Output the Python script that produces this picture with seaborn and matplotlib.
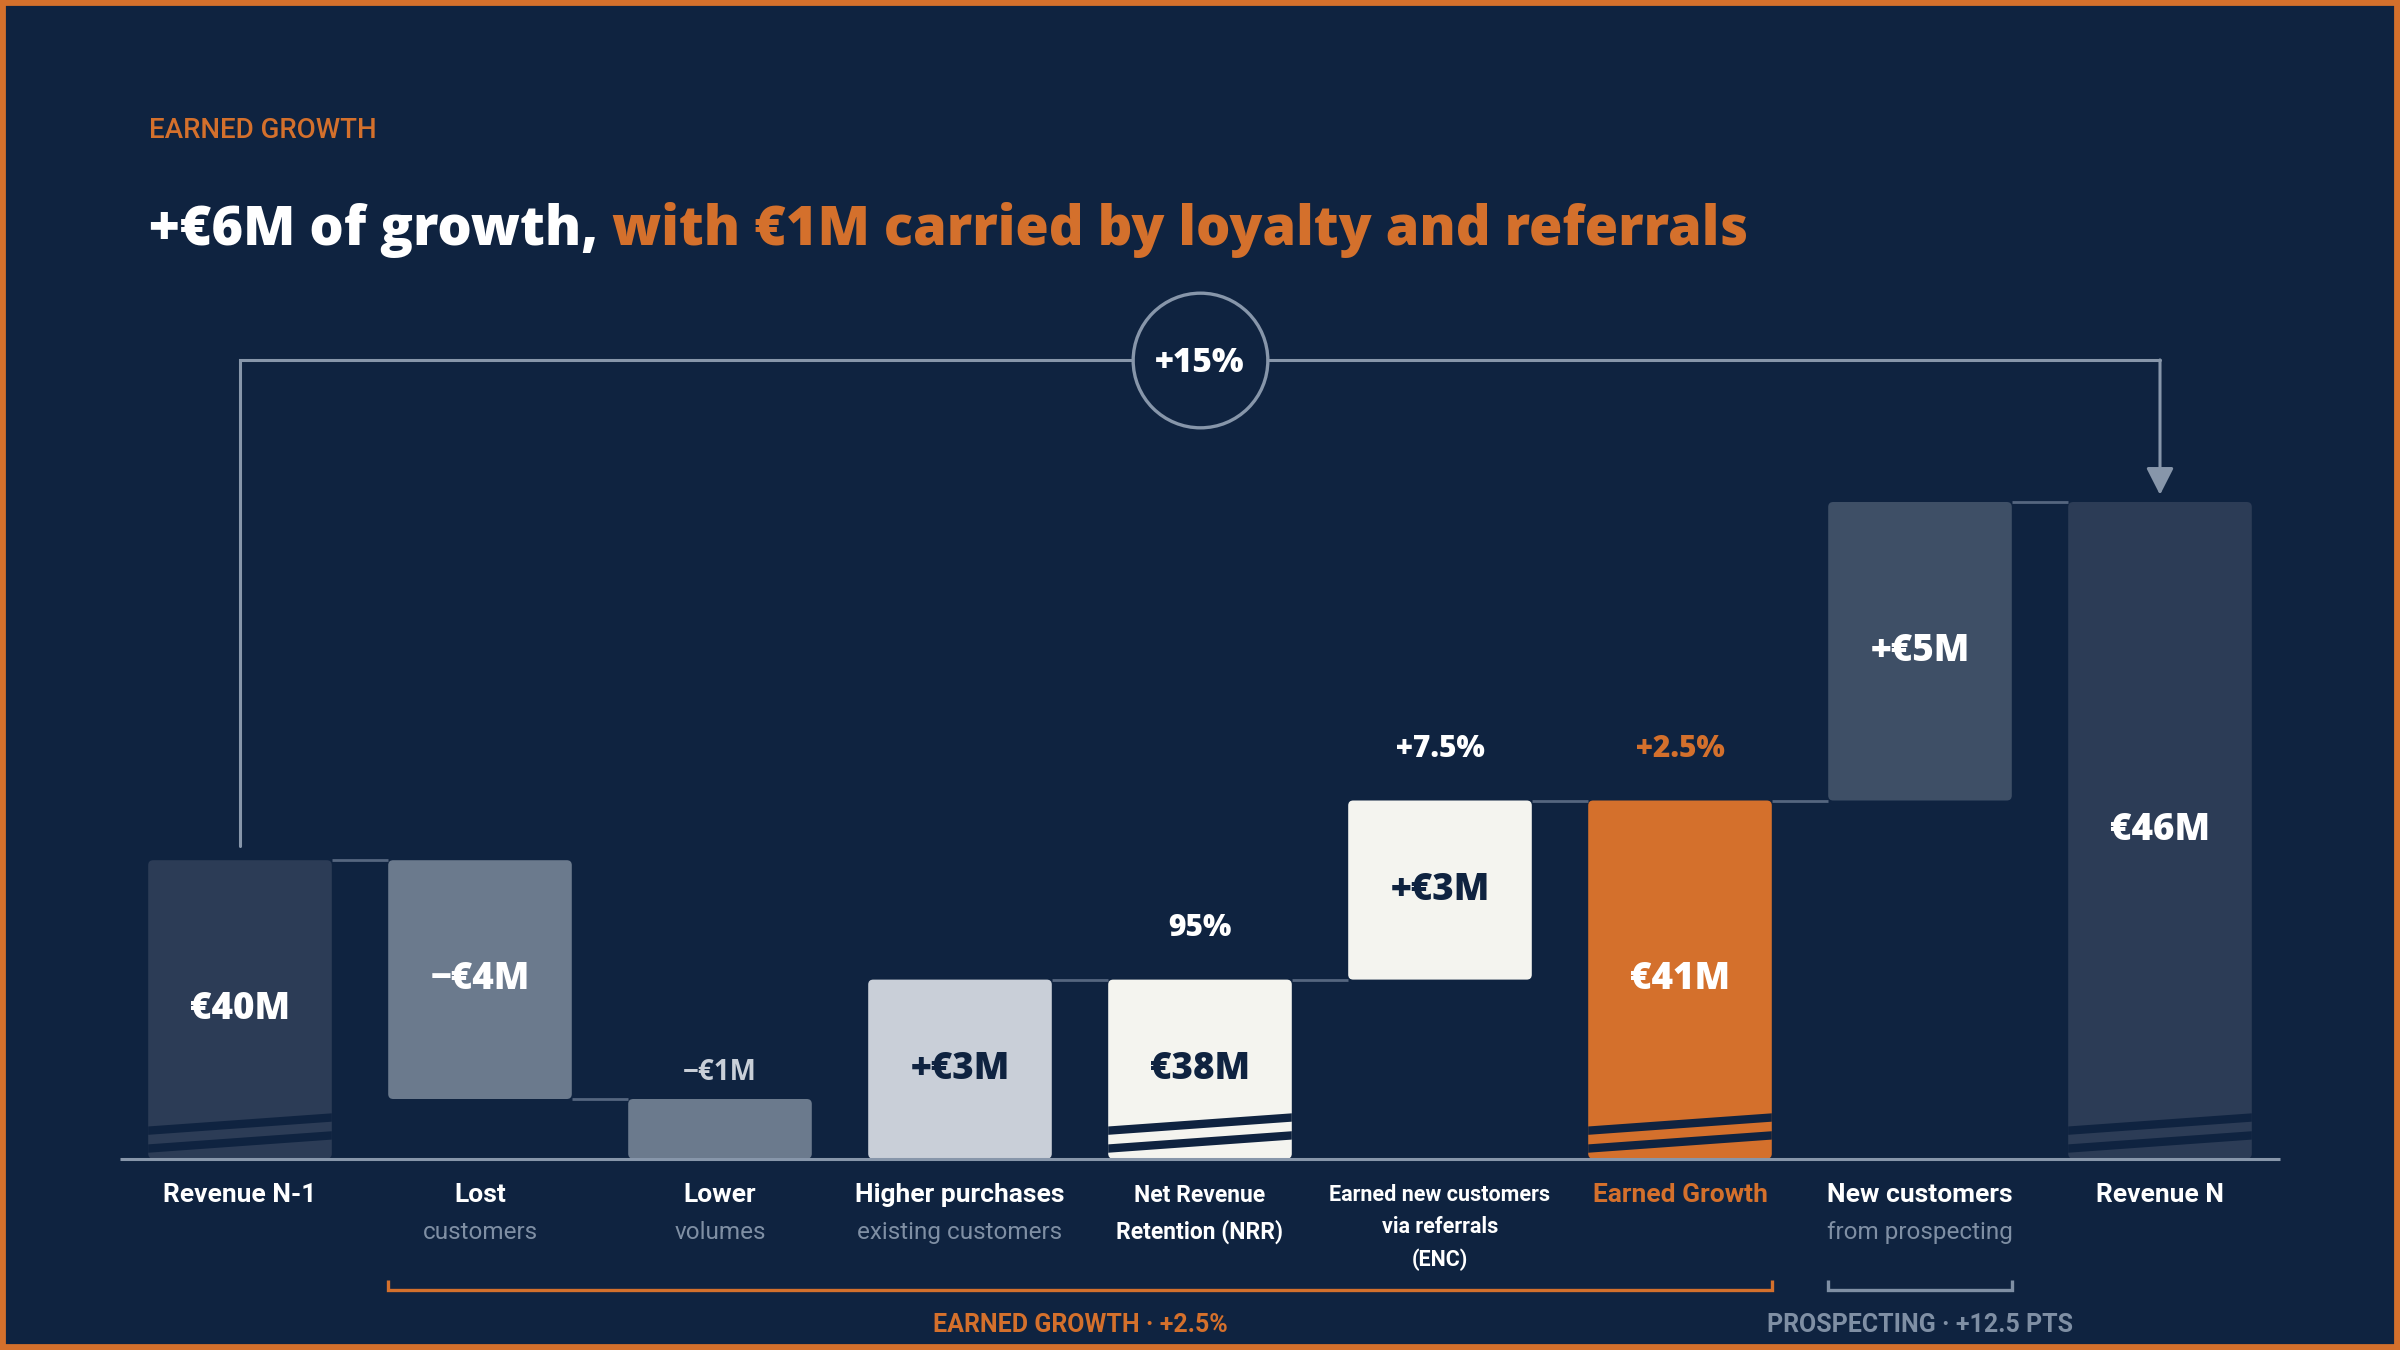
import matplotlib
matplotlib.use("Agg")
import matplotlib.pyplot as plt
from matplotlib.patches import FancyBboxPatch, Polygon, Rectangle
import seaborn as sns
import pandas as pd

# ---------------- data ----------------
categories = ["Revenue N-1", "Lost", "Lower", "Higher purchases", "Net Revenue",
              "Earned new customers", "Earned Growth", "New customers", "Revenue N"]
values = [40, -4, -1, 3, 38, 3, 41, 5, 46]
is_total = [True, False, False, False, True, False, True, False, True]
value_labels = ["€40M", "−€4M", "−€1M", "+€3M", "€38M", "+€3M", "€41M", "+€5M", "€46M"]
top_notes = ["", "", "", "", "95%", "+7.5%", "+2.5%", "", ""]
label_lines = [["Revenue N-1"], ["Lost"], ["Lower"], ["Higher purchases"],
               ["Net Revenue", "Retention (NRR)"],
               ["Earned new customers", "via referrals", "(ENC)"],
               ["Earned Growth"], ["New customers"], ["Revenue N"]]
label_sub = ["", "customers", "volumes", "existing customers", "", "", "", "from prospecting", ""]
axis_floor = 35          # broken value axis starts at €35M
total_growth = "+15%"
eyebrow = "EARNED GROWTH"
title_white = "+€6M of growth,"
title_orange = " with €1M carried by loyalty and referrals"
bracket_earned = "EARNED GROWTH · +2.5%"
bracket_prospect = "PROSPECTING · +12.5 PTS"

# ---------------- waterfall geometry from data ----------------
bottoms, tops, ends = [], [], []
running = 0
for v, tot in zip(values, is_total):
    if tot:
        running = v
        bottoms.append(axis_floor)
        tops.append(v)
    else:
        start = running
        running = running + v
        bottoms.append(min(start, running))
        tops.append(max(start, running))
    ends.append(running)
heights = [t - b for t, b in zip(tops, bottoms)]
df = pd.DataFrame({"category": categories, "height": heights, "bottom": bottoms})

# ---------------- style ----------------
BG = "#0F2340"
ORANGE = "#D4702C"
LINE = "#8796AA"
CONN = "#55667F"
MUTED = "#7F8FA4"
WHITE = "#FFFFFF"
bar_colors = ["#2C3C56", "#6B7A8D", "#6B7A8D", "#C9CFD8", "#F4F4EF",
              "#F4F4EF", ORANGE, "#3E4F66", "#2C3C56"]
text_colors = [WHITE, WHITE, "#C9CFD8", BG, BG, BG, WHITE, WHITE, WHITE]
note_colors = [WHITE, WHITE, WHITE, WHITE, WHITE, WHITE, ORANGE, WHITE, WHITE]
main_colors = [WHITE] * 6 + [ORANGE] + [WHITE] * 2

sns.set_theme(style="white")
plt.rcParams["font.family"] = ["Roboto", "DejaVu Sans"]
NUM_FONT = ["Open Sans", "DejaVu Sans"]
HEAVY = 800

W, H = 2400, 1350
BASE_PX, PX_PER_M = 1158.7, 59.7
X_PX = W / 10.0
BAR_W = 0.765

fig = plt.figure(figsize=(24, 13.5), dpi=100)
fig.patch.set_facecolor(BG)
ax = fig.add_axes([0, 0, 1, 1])
ax.set_facecolor(BG)

sns.barplot(data=df, x="category", y="height", bottom=df["bottom"].to_numpy(),
            width=BAR_W, color=bar_colors[0], saturation=1, errorbar=None,
            linewidth=0, ax=ax)

ax.set_xlim(-1, 9)
ax.set_ylim(axis_floor - (H - BASE_PX) / PX_PER_M, axis_floor + BASE_PX / PX_PER_M)
ax.axis("off")

# rounded, recoloured bars (geometry taken from seaborn's bars)
aspect = X_PX / PX_PER_M
rr = 5.0 / X_PX
geom = []
for i, p in enumerate(list(ax.patches)):
    x0, y0, w, h = p.get_x(), p.get_y(), p.get_width(), p.get_height()
    geom.append((x0, y0, w, h))
    p.remove()
    ax.add_patch(FancyBboxPatch((x0, y0), w, h,
                                boxstyle=f"round,pad=0,rounding_size={rr}",
                                mutation_aspect=aspect, fc=bar_colors[i],
                                ec="none", zorder=2))

# axis-break stripes on the total bars
for i, (x0, y0, w, h) in enumerate(geom):
    if not is_total[i]:
        continue
    x1 = x0 + w
    for b in (0.10, 0.40):
        t, d = 0.14, 0.22
        ax.add_patch(Polygon([(x0, y0 + b), (x1, y0 + b + d), (x1, y0 + b + d + t),
                              (x0, y0 + b + t)], closed=True, fc=BG, ec="none", zorder=2.5))

# connectors
for i in range(len(geom) - 1):
    lvl = ends[i]
    if lvl == axis_floor:
        continue
    xa = geom[i][0] + geom[i][2]
    xb = geom[i + 1][0]
    ax.plot([xa, xb], [lvl, lvl], color=CONN, lw=2.0, zorder=1.5, solid_capstyle="butt")

# baseline
ax.plot([-0.5, 8.5], [axis_floor, axis_floor], color=LINE, lw=2.2, zorder=3,
        solid_capstyle="butt")

# value labels
for i in range(len(values)):
    cx = geom[i][0] + geom[i][2] / 2
    if heights[i] < 1.5:
        ax.text(cx, tops[i] + 0.44, value_labels[i], ha="center", va="center",
                fontsize=20, fontweight="bold", color=text_colors[i], family=NUM_FONT, zorder=4)
    else:
        ax.text(cx, (tops[i] + bottoms[i]) / 2, value_labels[i], ha="center", va="center",
                fontsize=26.5, fontweight=HEAVY, color=text_colors[i], family=NUM_FONT, zorder=4)
    if top_notes[i]:
        ax.text(cx, tops[i] + 0.87, top_notes[i], ha="center", va="center",
                fontsize=21.5, fontweight=HEAVY, color=note_colors[i], family=NUM_FONT, zorder=4)

# category labels
for i in range(len(categories)):
    lines = label_lines[i]
    if len(lines) == 1:
        ax.text(i, 34.39, lines[0], ha="center", va="center", fontsize=19,
                fontweight="bold", color=main_colors[i])
        if label_sub[i]:
            ax.text(i, 33.77, label_sub[i], ha="center", va="center", fontsize=17.5,
                    color=MUTED)
    else:
        step = 0.62 if len(lines) == 2 else 0.54
        fs = 16.5 if len(lines) == 2 else 15.5
        for k, ln in enumerate(lines):
            ax.text(i, 34.39 - k * step, ln, ha="center", va="center", fontsize=fs,
                    fontweight="bold", color=main_colors[i])

# top bracket +15%
first, last = 0, len(values) - 1
y_br = 48.38
ax.plot([first, first, last], [tops[first] + 0.24, y_br, y_br], color=LINE, lw=2.2,
        zorder=3, solid_joinstyle="miter")
ax.annotate("", xy=(last, tops[last] + 0.12), xytext=(last, y_br),
            arrowprops=dict(arrowstyle="-|>,head_length=0.55,head_width=0.28",
                            color=LINE, lw=2.2, shrinkA=0, shrinkB=0, mutation_scale=30),
            zorder=3)
mid = 4
ax.scatter([mid], [y_br], s=9400, marker="o", facecolor=BG, edgecolor=LINE,
           linewidth=2.4, zorder=4)
ax.text(mid, y_br - 0.05, total_growth, ha="center", va="center", fontsize=24,
        fontweight=HEAVY, color=WHITE, family=NUM_FONT, zorder=5)

# bottom brackets
def bracket(i0, i1, color, label):
    xa = geom[i0][0]
    xb = geom[i1][0] + geom[i1][2]
    ax.plot([xa, xa, xb, xb], [32.975, 32.80, 32.80, 32.975], color=color, lw=2.4,
            solid_joinstyle="miter", solid_capstyle="butt")
    ax.text((xa + xb) / 2, 32.22, label, ha="center", va="center", fontsize=18,
            fontweight="bold", color=color)

bracket(1, 6, ORANGE, bracket_earned)
bracket(7, 7, MUTED, bracket_prospect)

# header
fig.text(0.0619, 0.9036, eyebrow, ha="left", va="center", fontsize=20,
         fontweight="medium", color=ORANGE)
t1 = fig.text(0.0619, 0.8185, title_white, ha="left", va="baseline", fontsize=39,
              fontweight=HEAVY, color=WHITE, family=NUM_FONT)
ax.annotate(title_orange, xy=(1, 0), xycoords=t1, ha="left", va="bottom", fontsize=39,
            fontweight=HEAVY, color=ORANGE, family=NUM_FONT, annotation_clip=False)

# orange frame
fig.patches.append(Rectangle((0, 0), 1, 1, transform=fig.transFigure, fill=False,
                             ec=ORANGE, lw=8.5, zorder=10))

fig.savefig("out.png", dpi=100, facecolor=BG)
